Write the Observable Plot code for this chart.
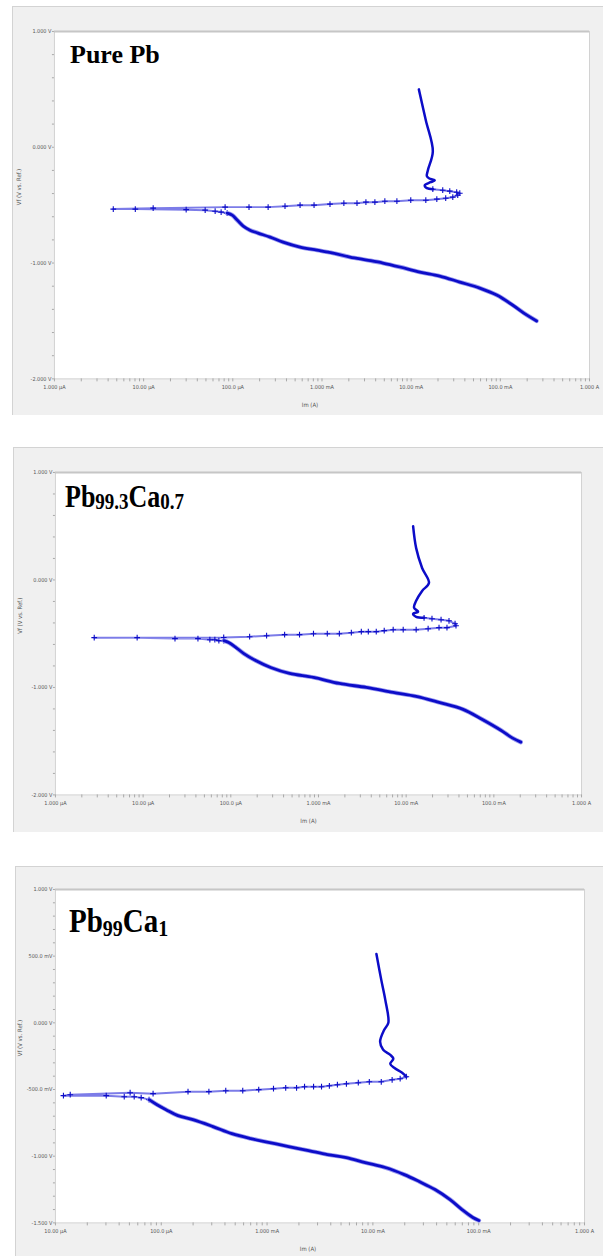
<!DOCTYPE html>
<html>
<head>
<meta charset="utf-8">
<script src="https://cdn.jsdelivr.net/npm/d3@7"></script>
<script src="https://cdn.jsdelivr.net/npm/@observablehq/plot@0.6"></script>
<style>
  html, body { margin: 0; padding: 0; background: #fff; }
  #page { position: relative; width: 603px; height: 1256px; overflow: hidden; }
  .panel { position: absolute; background: #f0f0f0; border-left: 1px solid #d3d3d3; border-top: 1px solid #d3d3d3; box-sizing: border-box; }
  .panel svg { position: absolute; left: -1px; top: -1px; }
  #titles { position: absolute; left: 0; top: 0; pointer-events: none; }
</style>
</head>
<body>
<div id="page"></div>
<script>
// Potentiodynamic polarization curves: [current (A), potential (V vs. Ref.)]
// Each curve is split into the dense cathodic Tafel branch, the sparse sweep
// through the corrosion potential and the upper anodic (passive) branch.

// Pure Pb
const pureTafel = [
  [0.255, -1.500], [0.197, -1.448], [0.137, -1.362], [0.091, -1.276], [0.0588, -1.216],
  [0.0351, -1.164], [0.0209, -1.112], [0.0125, -1.078], [0.00746, -1.034], [0.00482, -1.000],
  [0.00319, -0.974], [0.00206, -0.948], [0.00133, -0.914], [0.000879, -0.888], [0.000568, -0.862],
  [0.000366, -0.819], [0.000262, -0.776], [0.000192, -0.741], [0.000156, -0.716], [0.000131, -0.681],
  [0.000112, -0.629], [0.0000985, -0.586], [0.0000865, -0.569]
];
const pureSweep = [
  [0.0000865, -0.569], [0.000074, -0.560], [0.0000634, -0.552], [0.000049, -0.543], [0.000030, -0.539],
  [0.00000807, -0.534], [0.00000457, -0.534], [0.0000128, -0.526], [0.000082, -0.517], [0.000152, -0.517],
  [0.000249, -0.517], [0.000385, -0.509], [0.000568, -0.500], [0.000815, -0.500], [0.00123, -0.491],
  [0.00176, -0.483], [0.00247, -0.483], [0.00311, -0.474], [0.00392, -0.474], [0.00507, -0.466],
  [0.00692, -0.466], [0.0099, -0.457], [0.0146, -0.457], [0.0194, -0.448], [0.0244, -0.440],
  [0.0293, -0.431], [0.0333, -0.414], [0.0351, -0.397], [0.0324, -0.388], [0.0271, -0.379],
  [0.0226, -0.371], [0.0175, -0.362]
];
const purePassive = [
  [0.0175, -0.362], [0.0150, -0.353], [0.0142, -0.328], [0.0165, -0.302], [0.0184, -0.285],
  [0.0160, -0.270], [0.0150, -0.250], [0.0154, -0.198], [0.0175, -0.034], [0.0146, 0.233],
  [0.0122, 0.500]
];

// Pb99.3Ca0.7
const ca07Tafel = [
  [0.203, -1.509], [0.164, -1.472], [0.120, -1.398], [0.0731, -1.296], [0.0445, -1.204],
  [0.0237, -1.139], [0.0130, -1.083], [0.00711, -1.046], [0.00351, -1.000], [0.00173, -0.963],
  [0.000877, -0.907], [0.000468, -0.870], [0.000285, -0.815], [0.000192, -0.750], [0.000141, -0.685],
  [0.000111, -0.620], [0.0000948, -0.583], [0.0000832, -0.565]
];
const ca07Sweep = [
  [0.0000832, -0.565], [0.0000731, -0.565], [0.0000658, -0.556], [0.0000577, -0.556], [0.0000422, -0.546],
  [0.0000231, -0.546], [0.00000855, -0.537], [0.00000277, -0.537], [0.0000830, -0.535], [0.000164, -0.528],
  [0.000256, -0.519], [0.000411, -0.509], [0.000608, -0.509], [0.000877, -0.500], [0.00126, -0.500],
  [0.00173, -0.500], [0.00237, -0.491], [0.00308, -0.481], [0.00370, -0.481], [0.00456, -0.481],
  [0.00562, -0.472], [0.00711, -0.463], [0.00925, -0.463], [0.0130, -0.463], [0.0178, -0.454],
  [0.0237, -0.444], [0.0292, -0.444], [0.0370, -0.426], [0.0361, -0.407], [0.0308, -0.380],
  [0.0250, -0.370], [0.0197, -0.361], [0.0160, -0.352]
];
const ca07Passive = [
  [0.0160, -0.352], [0.0130, -0.343], [0.0120, -0.315], [0.0137, -0.296], [0.0123, -0.259],
  [0.0130, -0.194], [0.0152, -0.102], [0.0182, -0.028], [0.0152, 0.111], [0.0130, 0.296],
  [0.0120, 0.500]
];

// Pb99Ca1
const ca1Tafel = [
  [0.1005, -1.482], [0.0881, -1.460], [0.0695, -1.400], [0.0536, -1.325], [0.0387, -1.250],
  [0.0274, -1.190], [0.0198, -1.138], [0.0131, -1.085], [0.00847, -1.048], [0.00562, -1.010],
  [0.00372, -0.988], [0.00247, -0.958], [0.00160, -0.928], [0.00106, -0.898], [0.000702, -0.868],
  [0.000465, -0.831], [0.000308, -0.778], [0.000199, -0.726], [0.000144, -0.696], [0.000111, -0.651],
  [0.0000912, -0.614], [0.0000767, -0.576]
];
const ca1Sweep = [
  [0.0000767, -0.576], [0.0000646, -0.561], [0.0000555, -0.554], [0.0000447, -0.554], [0.0000302, -0.546],
  [0.0000119, -0.546], [0.0000138, -0.539], [0.0000508, -0.524], [0.0000837, -0.531], [0.000179, -0.516],
  [0.000282, -0.516], [0.000407, -0.509], [0.000589, -0.509], [0.000834, -0.501], [0.00115, -0.494],
  [0.00150, -0.487], [0.00190, -0.487], [0.00226, -0.479], [0.00275, -0.479], [0.00327, -0.479],
  [0.00388, -0.472], [0.00462, -0.464], [0.00562, -0.457], [0.00728, -0.449], [0.00925, -0.442],
  [0.0120, -0.442], [0.0152, -0.427], [0.0181, -0.419], [0.0207, -0.404]
];
const ca1Passive = [
  [0.0207, -0.404], [0.0189, -0.374], [0.0159, -0.337], [0.0146, -0.307], [0.0156, -0.269],
  [0.0146, -0.240], [0.0125, -0.202], [0.0117, -0.142], [0.0128, -0.052], [0.0140, 0.000],
  [0.0131, 0.172], [0.0120, 0.322], [0.0108, 0.516]
];

// Axis ticks and their labels
const currentTicks = [1e-6, 1e-5, 1e-4, 1e-3, 1e-2, 1e-1, 1];
const currentLabels = ["1.000 µA", "10.00 µA", "100.0 µA", "1.000 mA", "10.00 mA", "100.0 mA", "1.000 A"];
const currentTicksCa1 = [1e-5, 1e-4, 1e-3, 1e-2, 1e-1, 1];
const currentLabelsCa1 = ["10.00 µA", "100.0 µA", "1.000 mA", "10.00 mA", "100.0 mA", "1.000 A"];
const potentialTicks = [1, 0, -1, -2];
const potentialLabels = ["1.000 V", "0.000 V", "-1.000 V", "-2.000 V"];
const potentialTicksCa1 = [1, 0.5, 0, -0.5, -1, -1.5];
const potentialLabelsCa1 = ["1.000 V", "500.0 mV", "0.000 V", "-500.0 mV", "-1.000 V", "-1.500 V"];

const xTitle = "Im (A)";
const yTitle = "Vf (V vs. Ref.)";

const panels = [
  {
    box: {left: 12, top: 6, width: 591, height: 409},
    margin: {left: 42, right: 13, top: 25, bottom: 36},
    xDomain: [1e-6, 1], yDomain: [-2, 1], yMinorStep: 0.2,
    xTicks: currentTicks, xLabels: currentLabels,
    yTicks: potentialTicks, yLabels: potentialLabels,
    tafel: pureTafel, sweep: pureSweep, passive: purePassive,
    xTitleDx: -12, yTitleDx: -35,
    title: {x: 70, y: 63, sy: 1, parts: [{t: "Pure Pb", size: 26}]}
  },
  {
    box: {left: 13, top: 447, width: 590, height: 385},
    margin: {left: 42, right: 21, top: 25, bottom: 37},
    xDomain: [1e-6, 1], yDomain: [-2, 1], yMinorStep: 0.2,
    xTicks: currentTicks, xLabels: currentLabels,
    yTicks: potentialTicks, yLabels: potentialLabels,
    tafel: ca07Tafel, sweep: ca07Sweep, passive: ca07Passive,
    xTitleDx: -10, yTitleDx: -35,
    title: {x: 65, y: 507, sy: 1.22, parts: [
      {t: "Pb", size: 26}, {t: "99.3", size: 19, sub: 1.5}, {t: "Ca", size: 26}, {t: "0.7", size: 19, sub: 1.5}
    ]}
  },
  {
    box: {left: 15, top: 866, width: 588, height: 390},
    margin: {left: 40, right: 18, top: 23, bottom: 33},
    xDomain: [1e-5, 1], yDomain: [-1.5, 1], yMinorStep: 0.1,
    xTicks: currentTicksCa1, xLabels: currentLabelsCa1,
    yTicks: potentialTicksCa1, yLabels: potentialLabelsCa1,
    tafel: ca1Tafel, sweep: ca1Sweep, passive: ca1Passive,
    xTitleDx: -12, yTitleDx: -35,
    title: {x: 69, y: 932, sy: 1.13, parts: [
      {t: "Pb", size: 29}, {t: "99", size: 20, sub: 3.5}, {t: "Ca", size: 29}, {t: "1", size: 20, sub: 3.5}
    ]}
  }
];

const tickFont = "'Liberation Sans Narrow', 'Arial Narrow', 'DejaVu Sans Condensed', sans-serif";
const lineDark = "#0c0cc8";
const lineLight = "#7c7ce8";

const page = document.getElementById("page");

for (const p of panels) {
  const xLabelOf = new Map(p.xTicks.map((v, i) => [v, p.xLabels[i]]));
  const yLabelOf = new Map(p.yTicks.map((v, i) => [v, p.yLabels[i]]));

  // minor log ticks: 1..9 of every decade in the domain
  const xMinor = [];
  for (let e = Math.round(Math.log10(p.xDomain[0])); e < Math.round(Math.log10(p.xDomain[1])); e++) {
    for (let m = 1; m <= 9; m++) xMinor.push(m * Math.pow(10, e));
  }
  xMinor.push(p.xDomain[1]);
  const yMinor = d3.range(Math.round((p.yDomain[1] - p.yDomain[0]) / p.yMinorStep) + 1)
    .map(i => p.yDomain[0] + i * p.yMinorStep);

  const chart = Plot.plot({
    width: p.box.width,
    height: p.box.height,
    marginLeft: p.margin.left,
    marginRight: p.margin.right,
    marginTop: p.margin.top,
    marginBottom: p.margin.bottom,
    x: {type: "log", domain: p.xDomain},
    y: {domain: p.yDomain},
    style: {background: "transparent", fontFamily: tickFont, fontSize: "5.5px", color: "#555", overflow: "visible"},
    marks: [
      Plot.frame({fill: "white", stroke: "#d2d2d2"}),
      Plot.ruleY([p.yDomain[1]], {stroke: "#c6c6c6", strokeWidth: 2}),
      Plot.axisX({ticks: xMinor, tickSize: 3, tickFormat: () => "", stroke: "#a8a8a8"}),
      Plot.axisX({ticks: p.xTicks, tickSize: 0, tickPadding: 6, tickFormat: d => xLabelOf.get(d), fill: "#555"}),
      Plot.axisY({ticks: yMinor, tickSize: 2, tickFormat: () => "", stroke: "#a8a8a8"}),
      Plot.axisY({ticks: p.yTicks, tickSize: 0, tickPadding: 3, tickFormat: d => yLabelOf.get(d), fill: "#555"}),
      Plot.text([xTitle], {text: d => d, frameAnchor: "bottom", dy: 28, dx: p.xTitleDx, fontSize: 6, fill: "#555"}),
      Plot.text([yTitle], {text: d => d, frameAnchor: "left", rotate: -90, dx: p.yTitleDx, fontSize: 6, fill: "#555"}),
      // sparse sweep: light connecting line with individual markers
      Plot.line(p.sweep, {stroke: lineLight, strokeWidth: 2}),
      Plot.dot(p.sweep, {symbol: "plus", r: 2, stroke: lineDark, strokeWidth: 1.1}),
      // dense branches: closely spaced samples merge into a heavy trace
      Plot.line(p.tafel, {stroke: "#9a9af0", strokeWidth: 4.4, curve: "catmull-rom"}),
      Plot.line(p.tafel, {stroke: lineDark, strokeWidth: 2.8, curve: "catmull-rom"}),
      Plot.line(p.passive, {stroke: lineDark, strokeWidth: 2.5, curve: "catmull-rom"})
    ]
  });

  const div = document.createElement("div");
  div.className = "panel";
  Object.assign(div.style, {
    left: p.box.left + "px", top: p.box.top + "px",
    width: (p.box.width) + "px", height: p.box.height + "px"
  });
  div.appendChild(chart);
  page.appendChild(div);
}

// Alloy names with subscripted compositions
const ns = "http://www.w3.org/2000/svg";
const titles = document.createElementNS(ns, "svg");
titles.setAttribute("id", "titles");
titles.setAttribute("width", 603);
titles.setAttribute("height", 1256);
for (const p of panels) {
  const t = document.createElementNS(ns, "text");
  t.setAttribute("transform", `translate(${p.title.x},${p.title.y}) scale(1,${p.title.sy})`);
  t.setAttribute("font-family", "'Liberation Serif', 'Times New Roman', serif");
  t.setAttribute("font-weight", "bold");
  t.setAttribute("fill", "#000");
  let shift = 0;
  for (const part of p.title.parts) {
    const s = document.createElementNS(ns, "tspan");
    const target = part.sub || 0;
    s.setAttribute("dy", target - shift);
    shift = target;
    s.setAttribute("font-size", part.size);
    s.textContent = part.t;
    t.appendChild(s);
  }
  titles.appendChild(t);
}
page.appendChild(titles);
</script>
</body>
</html>
